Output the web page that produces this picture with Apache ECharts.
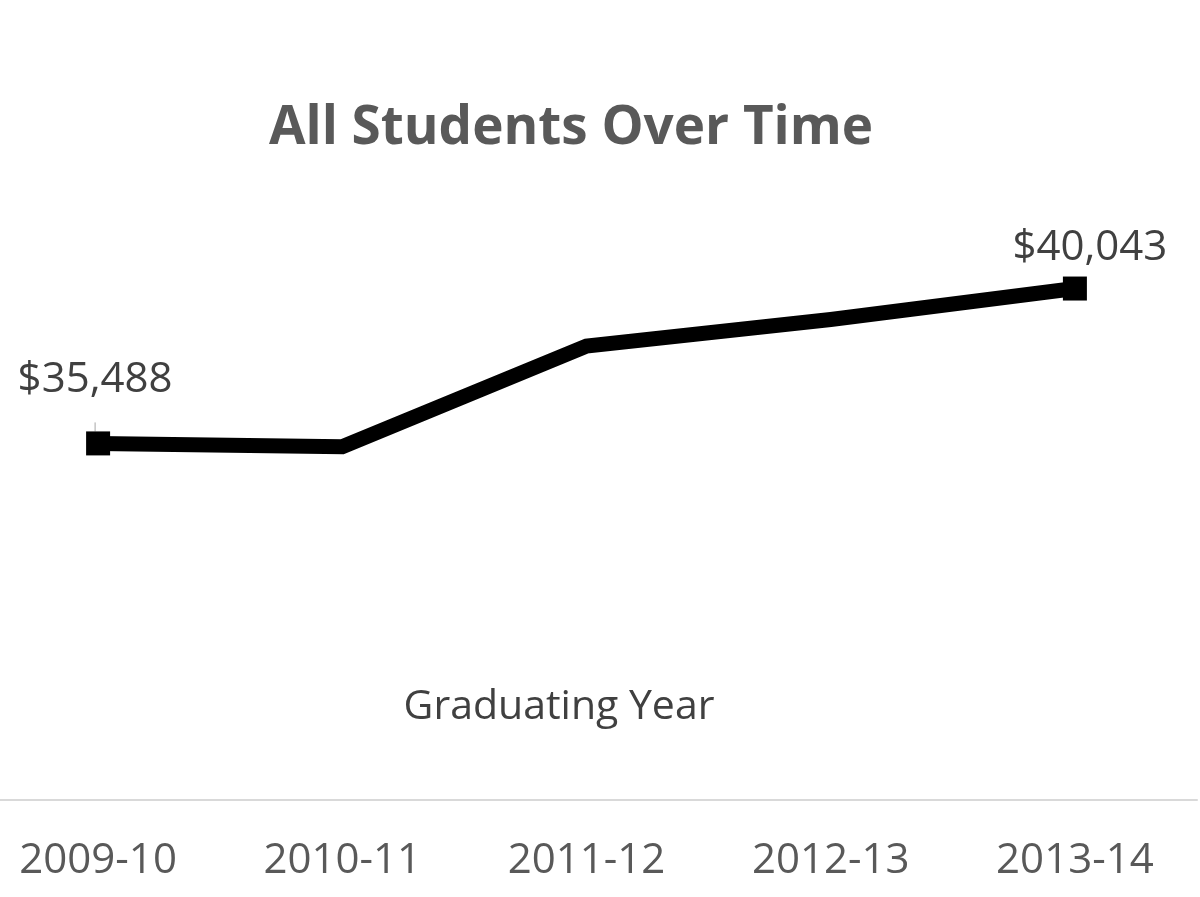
<!DOCTYPE html>
<html lang="en">
<head>
  <meta charset="UTF-8">
  <title>All Students Over Time</title>
  <style>
    html,
    body {
      padding: 0;
      margin: 0;
      background: #fff;
    }
  </style>
  <script src="https://cdn.jsdelivr.net/npm/echarts@6.0.0/dist/echarts.min.js"></script>
</head>
<body>
  <div id="demo"></div>
  <script>
    const years = ['2009-10', '2010-11', '2011-12', '2012-13', '2013-14']
    const debt = [35488, 35390, 38350, 39130, 40043]

    const demo = document.getElementById('demo')
    demo.style.width = '1200px'
    demo.style.height = '897px'
    const chart = echarts.init(demo)
    const font = '"Open Sans", "Noto Sans", sans-serif'

    const fmt = v => '$' + v.toLocaleString('en-US')
    const lastIdx = debt.length - 1

    const option = {
      animation: false,
      title: [{
        text: 'All Students Over Time',
        left: 566,
        top: 97,
        textAlign: 'center',
        textStyle: { fontFamily: font, fontSize: 53, fontWeight: 'bold', color: '#595959' }
      }, {
        text: 'Graduating Year',
        left: 554,
        top: 682,
        textAlign: 'center',
        textStyle: { fontFamily: font, fontSize: 41, fontWeight: 'normal', color: '#404040' }
      }],
      grid: { left: -24, right: 3, top: 120, bottom: 97, outerBoundsMode: 'none', containLabel: false },
      xAxis: {
        type: 'category',
        data: years,
        boundaryGap: true,
        axisLine: { lineStyle: { color: '#d9d9d9', width: 2 } },
        axisTick: { show: false },
        axisLabel: { fontFamily: font, fontSize: 42, color: '#595959', margin: 40 }
      },
      yAxis: {
        type: 'value',
        min: 25000,
        max: 45000,
        show: false,
        splitLine: { show: false }
      },
      series: [{
        type: 'line',
        data: debt.map((v, i) => {
          const edge = i === 0 || i === lastIdx
          return {
            value: v,
            symbol: edge ? 'rect' : 'none',
            symbolSize: 24,
            label: {
              show: edge,
              position: 'top',
              distance: i === 0 ? 30 : 8,
              offset: i === 0 ? [-3, 0] : [15, 0]
            },
            labelLine: { show: i === 0, lineStyle: { color: '#a6a6a6', width: 1 } }
          }
        }),
        lineStyle: { color: '#000', width: 15, cap: 'butt', join: 'miter' },
        itemStyle: { color: '#000' },
        label: {
          fontFamily: font,
          fontSize: 42,
          color: '#404040',
          formatter: p => fmt(p.value)
        }
      }]
    }
    chart.setOption(option)
  </script>
</body>
</html>
